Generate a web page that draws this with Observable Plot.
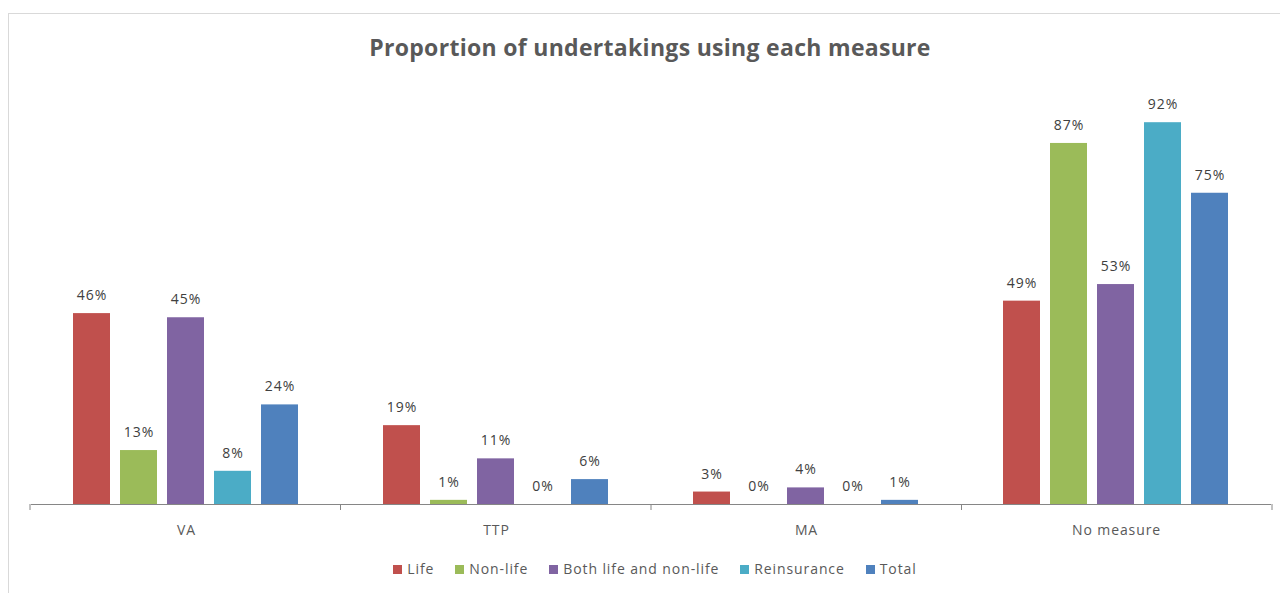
<!DOCTYPE html>
<html><head><meta charset="utf-8">
<script src="https://cdn.jsdelivr.net/npm/d3@7"></script>
<script src="https://cdn.jsdelivr.net/npm/@observablehq/plot@0.6"></script>
<style>
body{margin:0;background:#fff;width:1280px;height:593px;overflow:hidden;position:relative;font-family:"Open Sans",sans-serif;}
#box{position:absolute;left:8px;top:13px;width:1300px;height:620px;border:1px solid #d9d9d9;box-sizing:border-box;}
#title{position:absolute;left:0;top:32px;width:1300px;text-align:center;font-size:23px;letter-spacing:0.3px;font-weight:bold;color:#595959;line-height:30px;}
#chart{position:absolute;left:0;top:60px;}
#legend{position:absolute;left:0;top:560px;width:1310px;display:flex;justify-content:center;font-size:14px;letter-spacing:0.9px;color:#595959;line-height:18px;}
.item{display:flex;align-items:center;margin:0 10.5px;}
.sw{width:9px;height:9px;margin-right:5px;}
</style>
</head><body>
<div id="box"></div>
<div id="title">Proportion of undertakings using each measure</div>
<div id="chart"></div>
<div id="legend"></div>
<script>
const categories = ["VA", "TTP", "MA", "No measure"];
const series = ["Life", "Non-life", "Both life and non-life", "Reinsurance", "Total"];
const colors = ["#C0504D", "#9BBB59", "#8064A2", "#4BACC6", "#4F81BD"];
const life = [0.46, 0.19, 0.03, 0.49];
const nonLife = [0.13, 0.01, 0.00, 0.87];
const both = [0.45, 0.11, 0.04, 0.53];
const reinsurance = [0.08, 0.00, 0.00, 0.92];
const total = [0.24, 0.06, 0.01, 0.75];

const seriesValues = [life, nonLife, both, reinsurance, total];
const data = categories.flatMap((c, i) => seriesValues.map((arr, j) => ({category: c, series: series[j], value: arr[i]})));

const plot = Plot.plot({
  width: 1280, height: 490,
  marginLeft: 30, marginRight: 8, marginTop: 29, marginBottom: 46,
  style: {fontFamily: "'Open Sans', sans-serif", fontSize: "14px", letterSpacing: "0.9px", background: "transparent"},
  fx: {domain: categories, paddingInner: 0, paddingOuter: 0, label: null, axis: null},
  x: {domain: series, paddingInner: 0.21, paddingOuter: 0.845, axis: null},
  y: {domain: [0, 1], axis: null},
  color: {domain: series, range: colors},
  marks: [
    Plot.barY(data, {fx: "category", x: "series", y: "value", fill: "series"}),
    Plot.text(data, {fx: "category", x: "series", y: "value", text: d => Math.round(d.value * 100) + "%", dy: -18, fill: "#404040", fontSize: 14}),
    Plot.ruleY([0], {stroke: "#868686", strokeWidth: 1}),
    Plot.axisFx({anchor: "bottom", tickSize: 0, tickPadding: 21, fontSize: 14, fill: "#595959", label: null})
  ]
});
document.getElementById("chart").appendChild(plot);

// boundary ticks below the axis, derived from the fx scale
const fx = plot.scale("fx");
const y = plot.scale("y");
const r = fx.range;
const step = (r[1] - r[0]) / fx.domain.length;
const y0 = y.range[0];
const svg = d3.select(plot.tagName === "svg" ? plot : plot.querySelector("svg"));
const bounds = d3.range(fx.domain.length + 1).map(i => r[0] + i * step);
svg.append("g").selectAll("line").data(bounds).join("line")
  .attr("x1", d => d).attr("x2", d => d)
  .attr("y1", y0).attr("y2", y0 + 6)
  .attr("stroke", "#868686");

// legend
const leg = d3.select("#legend");
series.forEach((s, i) => {
  const it = leg.append("div").attr("class", "item");
  it.append("div").attr("class", "sw").style("background", colors[i]);
  it.append("span").text(s);
});
</script>
</body></html>
